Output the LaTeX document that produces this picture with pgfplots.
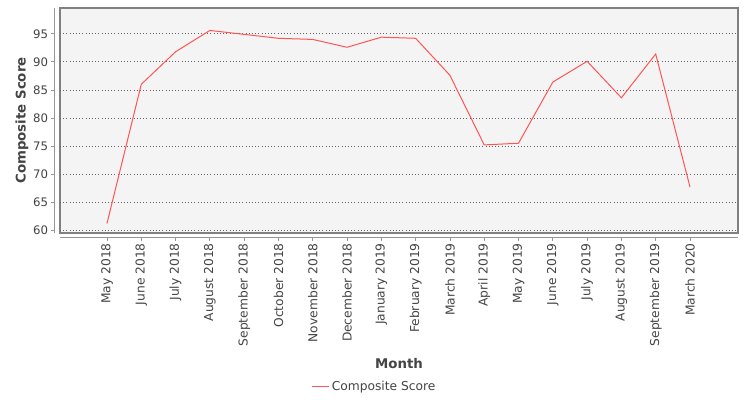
\documentclass[border=0pt]{standalone}
\usepackage{pgfplots}
\pgfplotsset{compat=1.18}
\usepackage{fontspec}
\setmainfont{DejaVu Sans}
\definecolor{series}{RGB}{255,85,85}
\definecolor{plotbg}{RGB}{244,244,244}
\definecolor{txt}{RGB}{68,68,68}
\begin{document}
\begin{tikzpicture}
\path[use as bounding box] (0,0) rectangle (562.5pt,300pt);
\begin{axis}[
    at={(45pt,125.25pt)}, anchor=south west,
    scale only axis, width=508.5pt, height=168.75pt,
    xmin=-1.37, xmax=18.4, ymin=59.5, ymax=99.6,
    axis x line*=bottom, axis y line*=left,
    axis x line shift=3pt, axis y line shift=3.75pt,
    axis line style={draw={rgb,255:red,150;green,150;blue,150}, line width=0.75pt},
    axis background/.style={fill=plotbg, draw={rgb,255:red,128;green,128;blue,128}, line width=0.8pt},
    tick align=outside, major tick length=3pt,
    tick style={draw={rgb,255:red,150;green,150;blue,150}, line width=0.6pt},
    xtick={0,...,17},
    xticklabels={May 2018,June 2018,July 2018,August 2018,September 2018,October 2018,November 2018,December 2018,January 2019,February 2019,March 2019,April 2019,May 2019,June 2019,July 2019,August 2019,September 2019,March 2020},
    ytick={60,65,...,95},
    xticklabel style={rotate=90, anchor=east, font=\fontsize{9.2pt}{9pt}\selectfont, text=txt, inner sep=1.5pt},
    yticklabel style={font=\fontsize{8.8pt}{9pt}\selectfont, text=txt, inner sep=2pt},
    /pgf/number format/assume math mode=true,
    ymajorgrids, grid style={dotted, draw={rgb,255:red,100;green,100;blue,100}, line width=0.6pt},
    xlabel={\bfseries Month}, ylabel={\bfseries Composite Score},
    label style={font=\fontsize{10pt}{12pt}\selectfont, text=txt},
    xlabel style={at={(axis description cs:0.5,-0.582)}, anchor=center},
    ylabel style={at={(axis description cs:-0.056,0.5)}, anchor=center, rotate=0},
    legend style={at={(axis description cs:0.464,-0.684)}, anchor=center, draw=none, fill=none,
        font=\fontsize{9.2pt}{10pt}\selectfont, text=txt, legend cell align=left},
    legend image post style={xscale=0.75},
]
\addplot[color=series, line width=0.75pt] coordinates {
(0,61.2) (1,86.0) (2,91.8) (3,95.6) (4,94.9) (5,94.2) (6,94.0) (7,92.6) (8,94.4)
(9,94.2) (10,87.6) (11,75.2) (12,75.5) (13,86.4) (14,90.1) (15,83.6) (16,91.4) (17,67.7)
};
\addlegendentry{Composite Score}
\end{axis}
\end{tikzpicture}
\end{document}
